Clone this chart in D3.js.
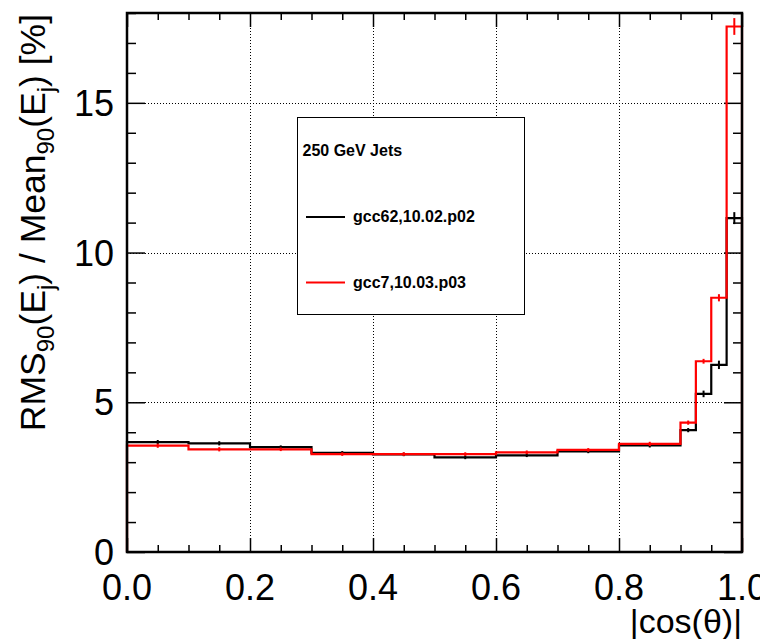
<!DOCTYPE html>
<html>
<head>
<meta charset="utf-8">
<script src="https://cdn.jsdelivr.net/npm/d3@7"></script>
<style>
  html, body { margin: 0; padding: 0; background: #fff; }
  svg { display: block; }
  text { font-family: "Liberation Sans", Arial, Helvetica, sans-serif; }
</style>
</head>
<body>
<svg id="chart" width="760" height="639"></svg>
<script>
// Bin edges in |cos(theta)| (finer binning near the forward region)
const binEdges = [0.0, 0.1, 0.2, 0.3, 0.4, 0.5, 0.6, 0.7, 0.8, 0.9, 0.925, 0.95, 0.975, 1.0];

// RMS90 / Mean90 [%] per bin
const gcc62Values = [3.67, 3.63, 3.50, 3.31, 3.26, 3.16, 3.23, 3.36, 3.56, 4.07, 5.28, 6.25, 11.15];
const gcc62Errors = [0.07, 0.07, 0.06, 0.06, 0.06, 0.06, 0.06, 0.06, 0.07, 0.07, 0.11, 0.14, 0.20];
const gcc7Values  = [3.55, 3.43, 3.43, 3.27, 3.27, 3.27, 3.33, 3.41, 3.61, 4.32, 6.37, 8.49, 17.55];
const gcc7Errors  = [0.07, 0.07, 0.06, 0.06, 0.06, 0.06, 0.06, 0.06, 0.07, 0.07, 0.08, 0.12, 0.28];

const xTickValues = [0.0, 0.2, 0.4, 0.6, 0.8, 1.0];
const yTickValues = [0, 5, 10, 15];

const series = [
  { name: "gcc62,10.02.p02", values: gcc62Values, errors: gcc62Errors, color: "#000000", width: 2.2 },
  { name: "gcc7,10.03.p03",  values: gcc7Values,  errors: gcc7Errors,  color: "#ff0000", width: 2.2 }
];

const frame = { left: 127, right: 742, top: 13, bottom: 552 };

const svg = d3.select("#chart");
svg.append("rect").attr("width", 760).attr("height", 639).attr("fill", "#fff");

const x = d3.scaleLinear().domain([0, 1]).range([frame.left, frame.right]);
const y = d3.scaleLinear().domain([0, 18]).range([frame.bottom, frame.top]);

// Dotted grid at major ticks
const grid = svg.append("g").attr("stroke", "#000").attr("stroke-width", 1).attr("stroke-dasharray", "1,2");
grid.selectAll("line.gx").data(xTickValues.filter(v => v > 0 && v < 1)).join("line")
  .attr("x1", d => Math.round(x(d)) + 0.5).attr("x2", d => Math.round(x(d)) + 0.5)
  .attr("y1", frame.top).attr("y2", frame.bottom);
grid.selectAll("line.gy").data(yTickValues).join("line")
  .attr("y1", d => Math.round(y(d)) + 0.5).attr("y2", d => Math.round(y(d)) + 0.5)
  .attr("x1", frame.left).attr("x2", frame.right);

// Axes: ticks drawn inward on all four sides
const xMinor = d3.range(0, 1.0001, 0.05).map(v => +v.toFixed(3));
const yMinor = d3.range(0, 18.001, 1);

function tickAxis(axisGen, transform) {
  const g = svg.append("g").attr("transform", transform).call(axisGen);
  g.select(".domain").remove();
  g.selectAll("line").attr("stroke", "#000").attr("stroke-width", 1.5);
  return g;
}
const isXMajor = d => Math.abs(d * 5 - Math.round(d * 5)) < 1e-6;
const isYMajor = d => d % 5 === 0;

// bottom & top x ticks
tickAxis(d3.axisTop(x).tickValues(xMinor).tickFormat(""), `translate(0,${frame.bottom})`)
  .selectAll(".tick line").attr("y2", d => isXMajor(d) ? -14 : -7);
tickAxis(d3.axisBottom(x).tickValues(xMinor).tickFormat(""), `translate(0,${frame.top})`)
  .selectAll(".tick line").attr("y2", d => isXMajor(d) ? 14 : 7);
// left & right y ticks
tickAxis(d3.axisRight(y).tickValues(yMinor).tickFormat(""), `translate(${frame.left},0)`)
  .selectAll(".tick line").attr("x2", d => isYMajor(d) ? 18 : 9);
tickAxis(d3.axisLeft(y).tickValues(yMinor).tickFormat(""), `translate(${frame.right},0)`)
  .selectAll(".tick line").attr("x2", d => isYMajor(d) ? -18 : -9);

// Tick labels
svg.append("g").selectAll("text").data(xTickValues).join("text")
  .attr("x", d => x(d)).attr("y", 600)
  .attr("text-anchor", "middle").attr("font-size", 36)
  .text(d => d3.format(".1f")(d));
svg.append("g").selectAll("text").data(yTickValues).join("text")
  .attr("x", 114).attr("y", d => y(d) + 13)
  .attr("text-anchor", "end").attr("font-size", 36)
  .text(d => d);

// Axis titles
svg.append("text").attr("x", frame.right).attr("y", 633)
  .attr("text-anchor", "end").attr("font-size", 34).text("|cos(θ)|");

const yTitle = svg.append("text")
  .attr("transform", `translate(45,${frame.top + 1}) rotate(-90)`)
  .attr("text-anchor", "end").attr("font-size", 35.5);
const yParts = [
  ["RMS", 0], ["90", 1], ["(E", 0], ["j", 1], [") / Mean", 0], ["90", 1], ["(E", 0], ["j", 1], [") [%]", 0]
];
let prevSub = 0;
yParts.forEach(([t, sub]) => {
  const ts = yTitle.append("tspan").text(t);
  const dy = (sub - prevSub) * 9;
  if (dy) ts.attr("dy", dy);
  if (sub) ts.attr("font-size", 24);
  prevSub = sub;
});

// Histograms as step lines, from zero at the low edge back to zero at the high edge
function stepPoints(values) {
  const pts = [[binEdges[0], 0]];
  values.forEach((v, i) => { pts.push([binEdges[i], v]); pts.push([binEdges[i + 1], v]); });
  pts.push([binEdges[binEdges.length - 1], 0]);
  return pts;
}
const line = d3.line().x(d => x(d[0])).y(d => y(d[1]));

series.forEach(s => {
  const g = svg.append("g");
  g.append("path").datum(stepPoints(s.values)).attr("d", line)
    .attr("fill", "none").attr("stroke", s.color).attr("stroke-width", s.width)
    .attr("stroke-linejoin", "miter");
  g.selectAll("line.err").data(s.values).join("line")
    .attr("x1", (d, i) => x((binEdges[i] + binEdges[i + 1]) / 2))
    .attr("x2", (d, i) => x((binEdges[i] + binEdges[i + 1]) / 2))
    .attr("y1", (d, i) => y(d - s.errors[i]))
    .attr("y2", (d, i) => y(d + s.errors[i]))
    .attr("stroke", s.color).attr("stroke-width", 2);
});

// Frame
svg.append("rect")
  .attr("x", frame.left).attr("y", frame.top)
  .attr("width", frame.right - frame.left).attr("height", frame.bottom - frame.top)
  .attr("fill", "none").attr("stroke", "#000").attr("stroke-width", 2.5);

// Legend
const lg = svg.append("g");
lg.append("rect").attr("x", 297.5).attr("y", 117.5).attr("width", 227).attr("height", 197)
  .attr("fill", "#fff").attr("stroke", "#000").attr("stroke-width", 1);
lg.append("text").attr("x", 302.5).attr("y", 156).attr("font-size", 16).attr("font-weight", "bold")
  .text("250 GeV Jets");
const legendRows = [217, 282.5];
series.forEach((s, i) => {
  lg.append("line").attr("x1", 306).attr("x2", 345).attr("y1", legendRows[i]).attr("y2", legendRows[i])
    .attr("stroke", s.color).attr("stroke-width", 2);
  lg.append("text").attr("x", 353).attr("y", legendRows[i] + 5).attr("font-size", 16).attr("font-weight", "bold")
    .text(s.name);
});
</script>
</body>
</html>
